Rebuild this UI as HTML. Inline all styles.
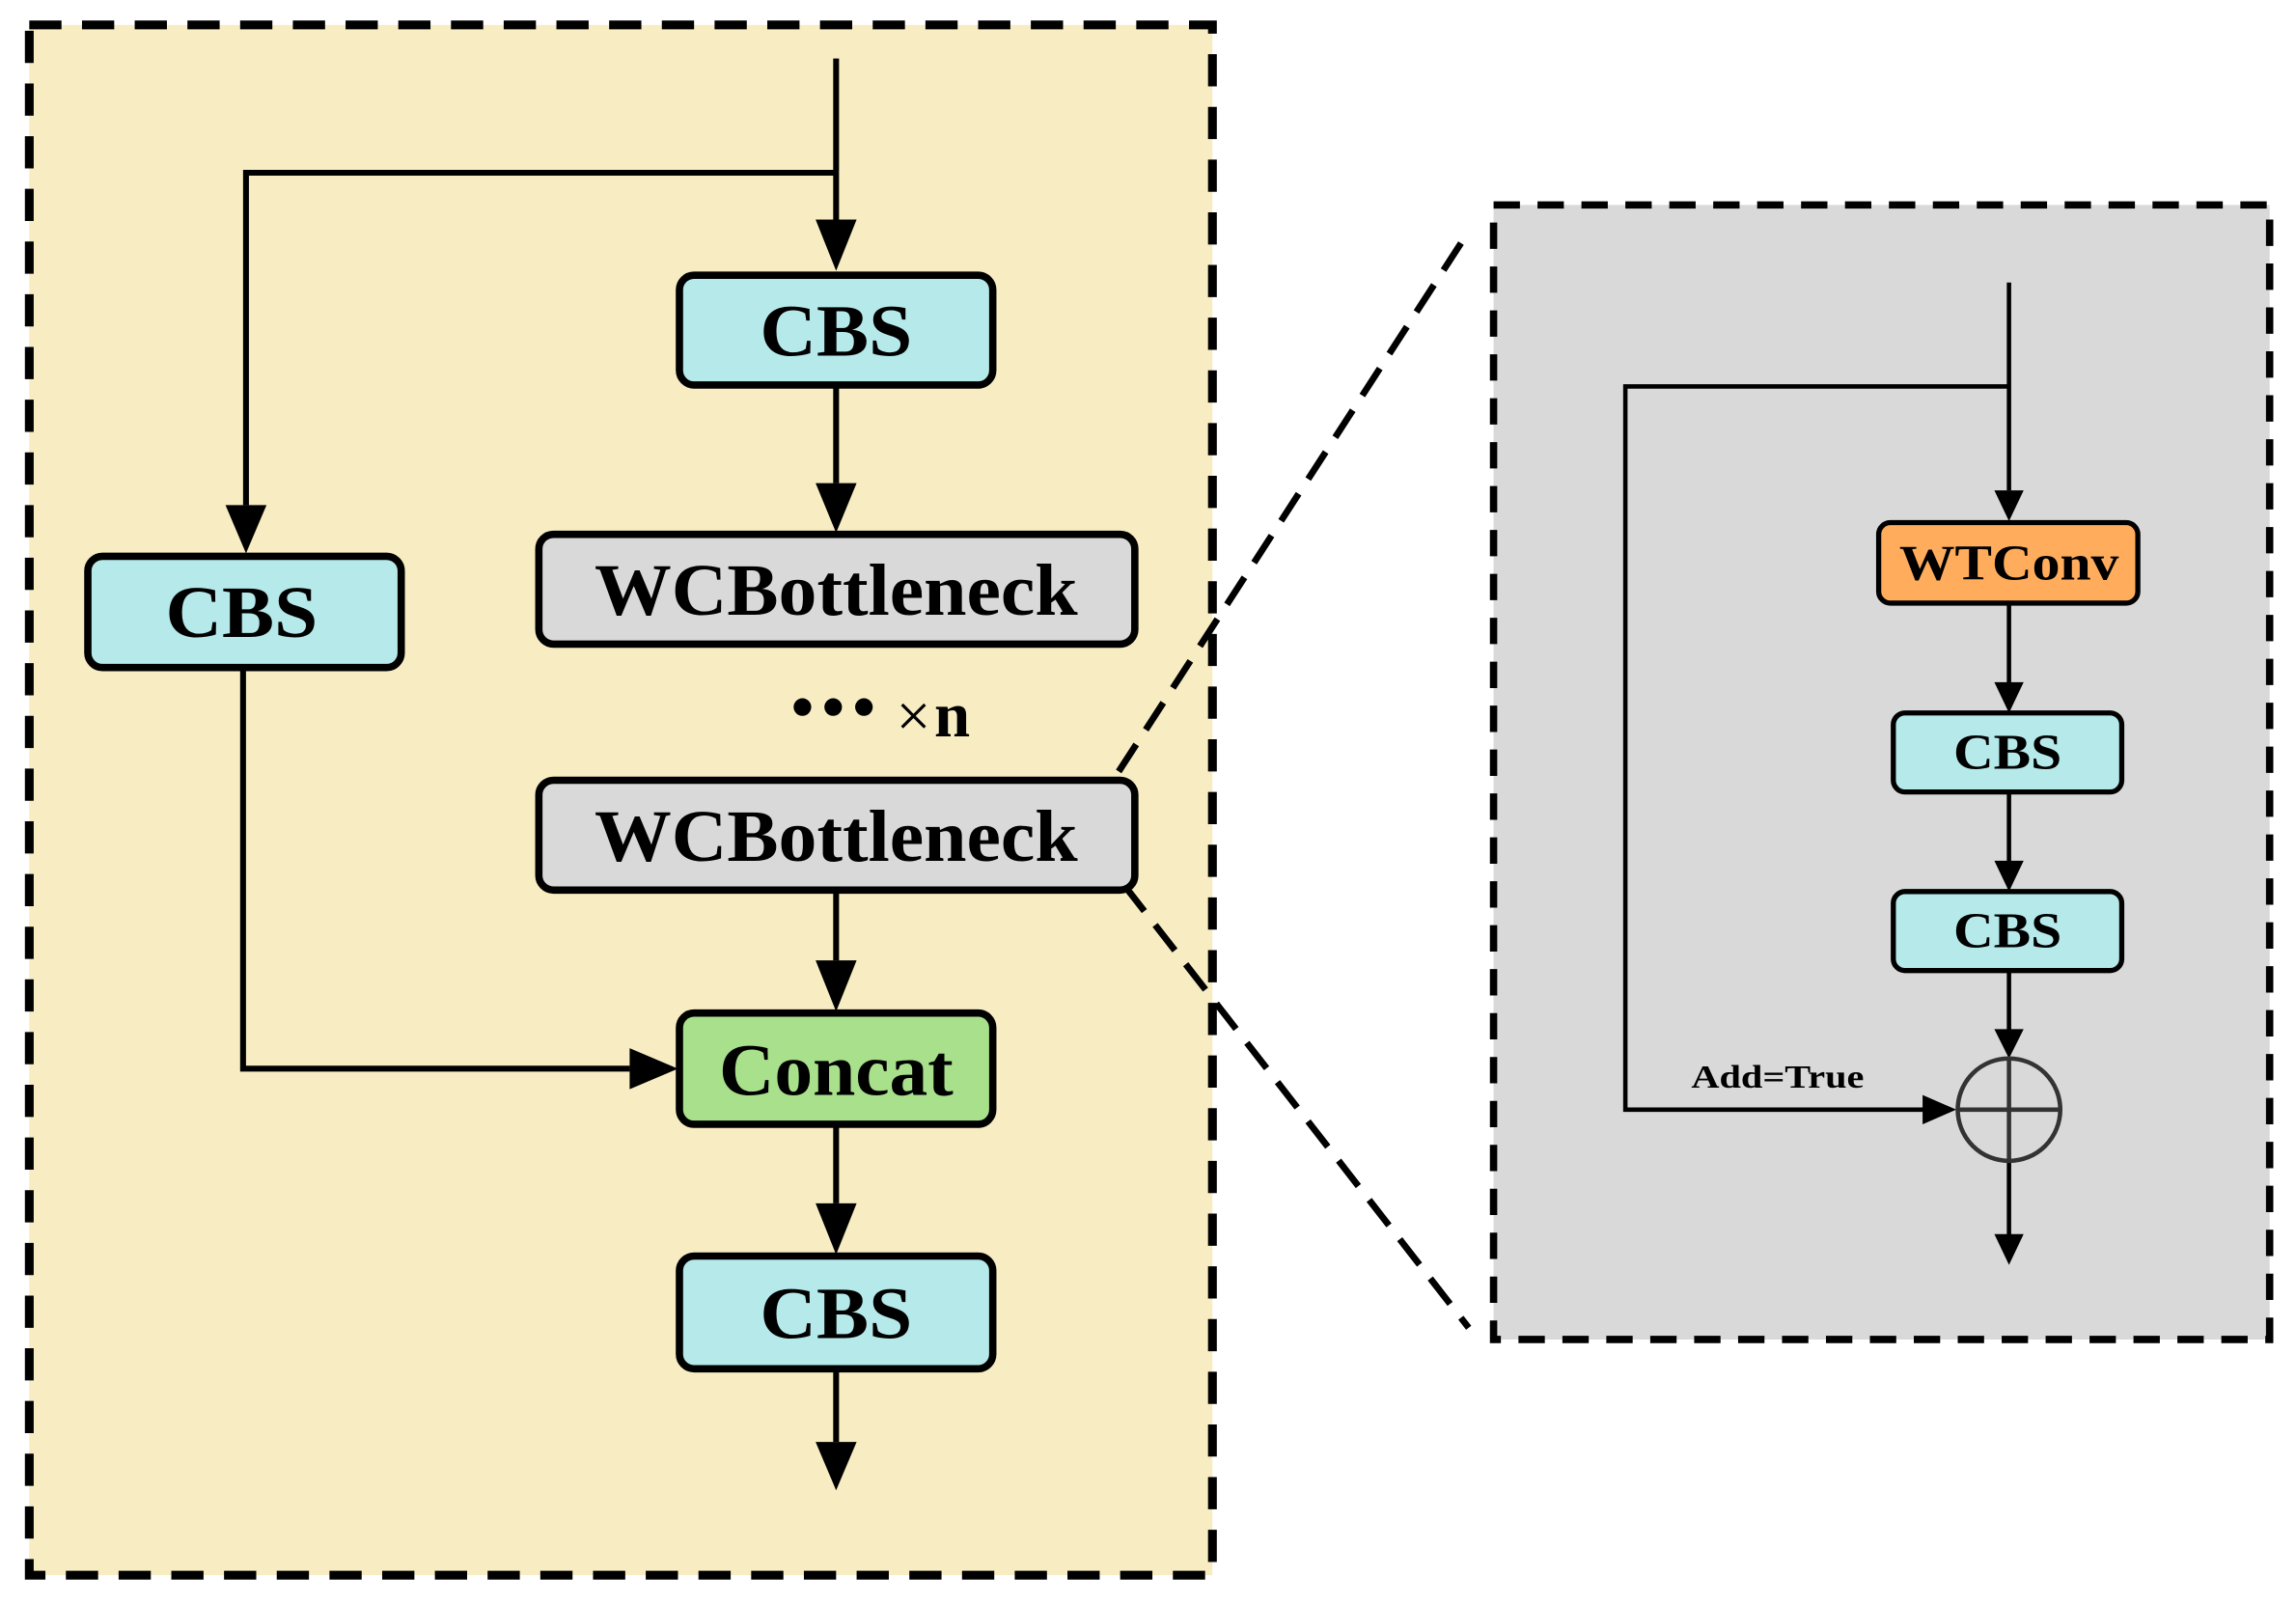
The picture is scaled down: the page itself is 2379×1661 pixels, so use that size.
<!DOCTYPE html>
<html><head><meta charset="utf-8"><style>html,body{margin:0;padding:0;background:#fff}svg{display:block}</style></head>
<body>
<svg width="2379" height="1661" viewBox="0 0 1568 1095" preserveAspectRatio="none" xmlns="http://www.w3.org/2000/svg" font-family="Liberation Serif, serif" font-weight="bold">
<defs>
<marker id="a" viewBox="0 0 10 10" refX="10" refY="5" markerWidth="6" markerHeight="6" markerUnits="userSpaceOnUse" orient="auto"><path d="M0,0L10,5L0,10z" fill="#000"/></marker>
</defs>
<!-- left panel -->
<rect x="20" y="17" width="808" height="1059" fill="#f7ecc2" stroke="#000" stroke-width="6" stroke-dasharray="22,14"/>
<!-- right panel -->
<rect x="1020" y="140" width="530" height="775" fill="#d9d9d9" stroke="#000" stroke-width="5" stroke-dasharray="18,12"/>
<!-- zoom lines -->
<line x1="764" y1="527" x2="1003" y2="158" stroke="#000" stroke-width="4.5" stroke-dasharray="22,12"/>
<line x1="768" y1="605" x2="1003" y2="907" stroke="#000" stroke-width="4.5" stroke-dasharray="22,12"/>
<g stroke="#000" stroke-width="4" fill="none">
<line x1="571" y1="40" x2="571" y2="150"/>
<polyline points="571,118 168,118 168,345"/>
<line x1="571" y1="263" x2="571" y2="330"/>
<line x1="571" y1="608" x2="571" y2="656"/>
<polyline points="166,456 166,730 430,730"/>
<line x1="571" y1="768" x2="571" y2="822"/>
<line x1="571" y1="935" x2="571" y2="985"/>
</g>
<g fill="#000">
<path d="M557,150L585,150L571,185z"/>
<path d="M154,345L182,345L168,378z"/>
<path d="M557,330L585,330L571,364z"/>
<path d="M557,656L585,656L571,691z"/>
<path d="M430,716L430,744L463,730z"/>
<path d="M557,822L585,822L571,857z"/>
<path d="M557,985L585,985L571,1018z"/>
</g>
<g stroke="#000" stroke-width="5">
<rect x="464" y="188" width="214" height="75" rx="10" fill="#b5e9ea"/>
<rect x="60" y="380" width="214" height="76" rx="10" fill="#b5e9ea"/>
<rect x="368" y="365" width="407" height="75" rx="10" fill="#d9d9d9"/>
<rect x="368" y="533" width="407" height="75" rx="10" fill="#d9d9d9"/>
<rect x="464" y="692" width="214" height="76" rx="10" fill="#a8e08c"/>
<rect x="464" y="858" width="214" height="77" rx="10" fill="#b5e9ea"/>
</g>
<g font-size="50" text-anchor="middle" fill="#000">
<text x="571" y="243" textLength="104" lengthAdjust="spacingAndGlyphs">CBS</text>
<text x="165" y="435" textLength="104" lengthAdjust="spacingAndGlyphs">CBS</text>
<text x="571" y="420" textLength="330" lengthAdjust="spacingAndGlyphs">WCBottleneck</text>
<text x="571" y="588" textLength="330" lengthAdjust="spacingAndGlyphs">WCBottleneck</text>
<text x="571" y="748" textLength="160" lengthAdjust="spacingAndGlyphs">Concat</text>
<text x="571" y="914" textLength="104" lengthAdjust="spacingAndGlyphs">CBS</text>
</g>
<g fill="#000"><circle cx="548" cy="483" r="6"/><circle cx="569" cy="483" r="6"/><circle cx="590" cy="483" r="6"/></g>
<text x="612" y="503" font-size="42" fill="#000" font-weight="normal">×</text><text x="638" y="503" font-size="44" fill="#000">n</text>
<!-- right content -->
<g stroke="#000" stroke-width="3" fill="none">
<line x1="1372" y1="193" x2="1372" y2="335"/>
<polyline points="1372,264 1110,264 1110,758 1315,758"/>
<line x1="1372" y1="412" x2="1372" y2="468"/>
<line x1="1372" y1="541" x2="1372" y2="590"/>
<line x1="1372" y1="663" x2="1372" y2="705"/>
<line x1="1372" y1="793" x2="1372" y2="845"/>
</g>
<g fill="#000">
<path d="M1362,335L1382,335L1372,356z"/>
<path d="M1362,466L1382,466L1372,487z"/>
<path d="M1362,588L1382,588L1372,609z"/>
<path d="M1362,703L1382,703L1372,723z"/>
<path d="M1362,843L1382,843L1372,864z"/>
<path d="M1313,748L1313,768L1336,758z"/>
</g>
<circle cx="1372" cy="758" r="35" fill="none" stroke="#333" stroke-width="3"/>
<line x1="1337" y1="758" x2="1407" y2="758" stroke="#333" stroke-width="3"/>
<line x1="1372" y1="723" x2="1372" y2="793" stroke="#333" stroke-width="3"/>
<g stroke="#000" stroke-width="3.5">
<rect x="1283" y="357" width="177" height="55" rx="8" fill="#ffad5c"/>
<rect x="1293" y="487" width="156" height="54" rx="8" fill="#b5e9ea"/>
<rect x="1293" y="609" width="156" height="54" rx="8" fill="#b5e9ea"/>
</g>
<g font-size="34" text-anchor="middle" fill="#000">
<text x="1372" y="396" textLength="150" lengthAdjust="spacingAndGlyphs">WTConv</text>
<text x="1371" y="525" textLength="74" lengthAdjust="spacingAndGlyphs">CBS</text>
<text x="1371" y="647" textLength="74" lengthAdjust="spacingAndGlyphs">CBS</text>
</g>
<text x="1214" y="743" font-size="22" text-anchor="middle" fill="#000" textLength="118" lengthAdjust="spacingAndGlyphs">Add=True</text>
</svg>
</body></html>
